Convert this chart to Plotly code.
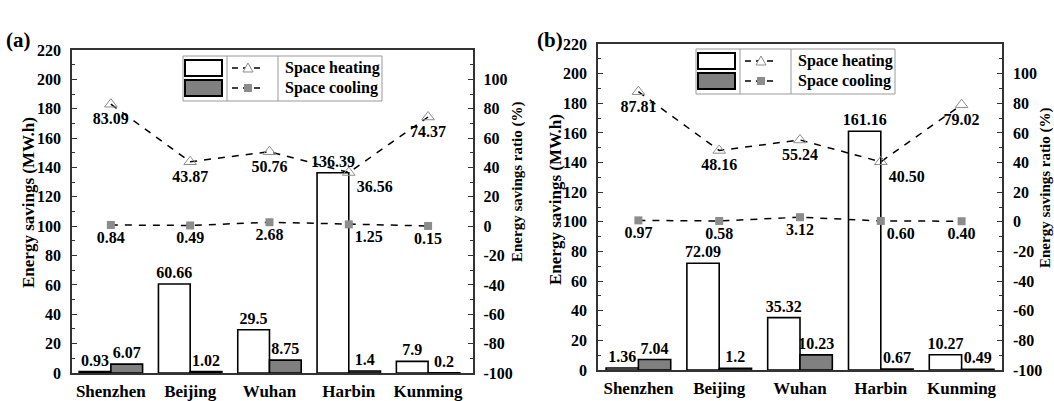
import plotly.graph_objects as go

# ---------------- data ----------------
cities = ["Shenzhen", "Beijing", "Wuhan", "Harbin", "Kunming"]

heat_a = [0.93, 60.66, 29.5, 136.39, 7.9]
cool_a = [6.07, 1.02, 8.75, 1.4, 0.2]
heat_ratio_a = [83.09, 43.87, 50.76, 36.56, 74.37]
cool_ratio_a = [0.84, 0.49, 2.68, 1.25, 0.15]

heat_b = [1.36, 72.09, 35.32, 161.16, 10.27]
cool_b = [7.04, 1.2, 10.23, 0.67, 0.49]
heat_ratio_b = [87.81, 48.16, 55.24, 40.50, 79.02]
cool_ratio_b = [0.97, 0.58, 3.12, 0.60, 0.40]

left_ticks = list(range(0, 221, 20))
right_ticks = list(range(-100, 101, 20))
right_tick_text = [str(v) for v in right_ticks]

W, H = 1054, 401
FONT = "Liberation Serif"
BLACK = "#000000"
GRAY_BAR = "#808080"
GRAY_MK = "#8c8c8c"
AX = "#333333"


def px(x):
    return x / W


def py(y):
    return 1 - y / H


fig = go.Figure()

heat_pos_a = ["bottom center", "bottom center", "bottom center", "bottom right", "bottom center"]
cool_pos_a = ["bottom center", "bottom center", "bottom center", "bottom right", "bottom center"]
heat_pos_b = ["bottom center", "bottom center", "bottom center", "bottom right", "bottom center"]
cool_pos_b = ["bottom center", "bottom center", "bottom center", "bottom right", "bottom center"]

tfont = dict(family=FONT, size=16, color=BLACK, weight="bold")


def add_panel(heat, cool, hr, cr, xa, ya, ya2, hpos, cpos):
    fig.add_trace(go.Bar(x=cities, y=heat, xaxis=xa, yaxis=ya, name="Space heating",
                         marker=dict(color="white", line=dict(color=BLACK, width=1.6)),
                         text=[str(v) for v in heat], textposition="outside",
                         textfont=tfont, constraintext="none", cliponaxis=False,
                         offsetgroup="h", showlegend=False))
    fig.add_trace(go.Bar(x=cities, y=cool, xaxis=xa, yaxis=ya, name="Space cooling",
                         marker=dict(color=GRAY_BAR, line=dict(color=BLACK, width=1.6)),
                         text=[str(v) for v in cool], textposition="outside",
                         textfont=tfont, constraintext="none", cliponaxis=False,
                         offsetgroup="c", showlegend=False))
    fig.add_trace(go.Scatter(x=cities, y=hr, xaxis=xa, yaxis=ya2, mode="lines+markers+text",
                             line=dict(color=BLACK, width=1.5, dash="7px,7px"),
                             marker=dict(symbol="triangle-up-open", size=11, color=GRAY_MK,
                                         line=dict(width=1)),
                             text=["%.2f" % v for v in hr], textposition=hpos,
                             textfont=tfont, cliponaxis=False, showlegend=False))
    fig.add_trace(go.Scatter(x=cities, y=cr, xaxis=xa, yaxis=ya2, mode="lines+markers+text",
                             line=dict(color=BLACK, width=1.5, dash="7px,7px"),
                             marker=dict(symbol="square", size=8, color=GRAY_MK),
                             text=["%.2f" % v for v in cr], textposition=cpos,
                             textfont=tfont, cliponaxis=False, showlegend=False))


add_panel(heat_a, cool_a, heat_ratio_a, cool_ratio_a, "x", "y", "y2", heat_pos_a, cool_pos_a)
add_panel(heat_b, cool_b, heat_ratio_b, cool_ratio_b, "x2", "y3", "y4", heat_pos_b, cool_pos_b)

tickfont = dict(family=FONT, size=16, color=BLACK, weight="bold")
catfont = dict(family=FONT, size=17, color=BLACK, weight="bold")


def xaxis_cfg(dom, rng, anchor):
    return dict(domain=dom, range=rng, anchor=anchor, type="category", showline=True,
                linecolor=AX, linewidth=1.5, mirror=True, ticks="", showgrid=False,
                zeroline=False, tickfont=catfont, ticklabelstandoff=2, automargin=False)


def yleft_cfg(dom, anchor):
    return dict(domain=dom, anchor=anchor, range=[0, 220], tickvals=left_ticks,
                showline=True, linecolor=AX, linewidth=1.5, ticks="inside", ticklen=5,
                tickwidth=1.2, tickcolor=AX,
                minor=dict(dtick=10, ticks="inside", ticklen=3, tickcolor=AX, tickwidth=1),
                showgrid=False, zeroline=False, tickfont=tickfont, automargin=False,
                ticklabelstandoff=6)


def yright_cfg(over, anchor):
    return dict(overlaying=over, anchor=anchor, side="right", range=[-100, 120],
                tickvals=right_ticks, ticktext=right_tick_text, showline=True,
                linecolor=AX, linewidth=1.5,
                ticks="inside", ticklen=5, tickwidth=1.2, tickcolor=AX,
                minor=dict(tick0=0, dtick=10, ticks="inside", ticklen=3, tickcolor=AX, tickwidth=1),
                showgrid=False, zeroline=False, tickfont=tickfont, automargin=False,
                ticklabelstandoff=6)


fig.update_layout(
    width=W, height=H,
    margin=dict(l=0, r=0, t=0, b=0),
    paper_bgcolor="white", plot_bgcolor="white",
    barmode="group", bargap=0.2, bargroupgap=0,
    showlegend=False,
    xaxis=xaxis_cfg([px(72), px(472.5)], [-0.49, 4.56], "y"),
    yaxis=yleft_cfg([py(373), py(50)], "x"),
    yaxis2=yright_cfg("y", "x"),
    xaxis2=xaxis_cfg([px(598), px(1002)], [-0.5, 4.5], "y3"),
    yaxis3=yleft_cfg([py(370), py(44)], "x2"),
    yaxis4=yright_cfg("y3", "x2"),
)

ann = []
shapes = []

# panel labels
for x, t in [(4, "(a)"), (535, "(b)")]:
    ann.append(dict(text=t, x=px(x), y=py(40), xref="paper", yref="paper", showarrow=False,
                    xanchor="left", yanchor="middle",
                    font=dict(family=FONT, size=21, color=BLACK, weight="bold")))

# axis titles
for x, y, t, s in [(28, 203, "Energy savings (MW.h)", 17), (518, 182, "Energy savings ratio (%)", 15),
                   (555, 200, "Energy savings (MW.h)", 17), (1045, 188, "Energy savings ratio (%)", 15)]:
    ann.append(dict(text=t, x=px(x), y=py(y), xref="paper", yref="paper", showarrow=False,
                    textangle=-90, xanchor="center", yanchor="middle",
                    font=dict(family=FONT, size=s, color=BLACK, weight="bold")))


def legend(x0, y0):
    w, h = 199, 45
    shapes.append(dict(type="rect", xref="paper", yref="paper", x0=px(x0), x1=px(x0 + w),
                       y0=py(y0 + h), y1=py(y0), line=dict(color="#999999", width=1),
                       fillcolor="white"))
    # swatches
    shapes.append(dict(type="rect", xref="paper", yref="paper", x0=px(x0 + 2), x1=px(x0 + 39),
                       y0=py(y0 + 20), y1=py(y0 + 4), line=dict(color=BLACK, width=2),
                       fillcolor="white"))
    shapes.append(dict(type="rect", xref="paper", yref="paper", x0=px(x0 + 2), x1=px(x0 + 39),
                       y0=py(y0 + 40), y1=py(y0 + 24), line=dict(color=BLACK, width=2),
                       fillcolor=GRAY_BAR))
    for dx in (44, 95):
        shapes.append(dict(type="line", xref="paper", yref="paper", x0=px(x0 + dx), x1=px(x0 + dx),
                           y0=py(y0), y1=py(y0 + h), line=dict(color="#999999", width=1)))
    for ry in (12, 32):
        shapes.append(dict(type="line", xref="paper", yref="paper", x0=px(x0 + 49), x1=px(x0 + 82),
                           y0=py(y0 + ry), y1=py(y0 + ry),
                           line=dict(color=BLACK, width=1.5, dash="6px,5px")))
    cx, cy = x0 + 65, y0 + 12
    shapes.append(dict(type="path", xref="paper", yref="paper",
                       path="M %f,%f L %f,%f L %f,%f Z" % (px(cx - 5), py(cy + 4), px(cx + 5), py(cy + 4),
                                                          px(cx), py(cy - 5)),
                       line=dict(color=GRAY_MK, width=1), fillcolor="white"))
    cy2 = y0 + 32
    shapes.append(dict(type="rect", xref="paper", yref="paper", x0=px(cx - 4), x1=px(cx + 4),
                       y0=py(cy2 + 4), y1=py(cy2 - 4), line=dict(width=0), fillcolor=GRAY_MK))
    for ry, t in [(12, "Space heating"), (32, "Space cooling")]:
        ann.append(dict(text=t, x=px(x0 + 100), y=py(y0 + ry), xref="paper", yref="paper",
                        showarrow=False, xanchor="left", yanchor="middle",
                        font=dict(family=FONT, size=16, color=BLACK, weight="bold")))


legend(183, 56)
legend(696, 49)

fig.update_layout(annotations=ann, shapes=shapes)
fig.write_html("out.html")
